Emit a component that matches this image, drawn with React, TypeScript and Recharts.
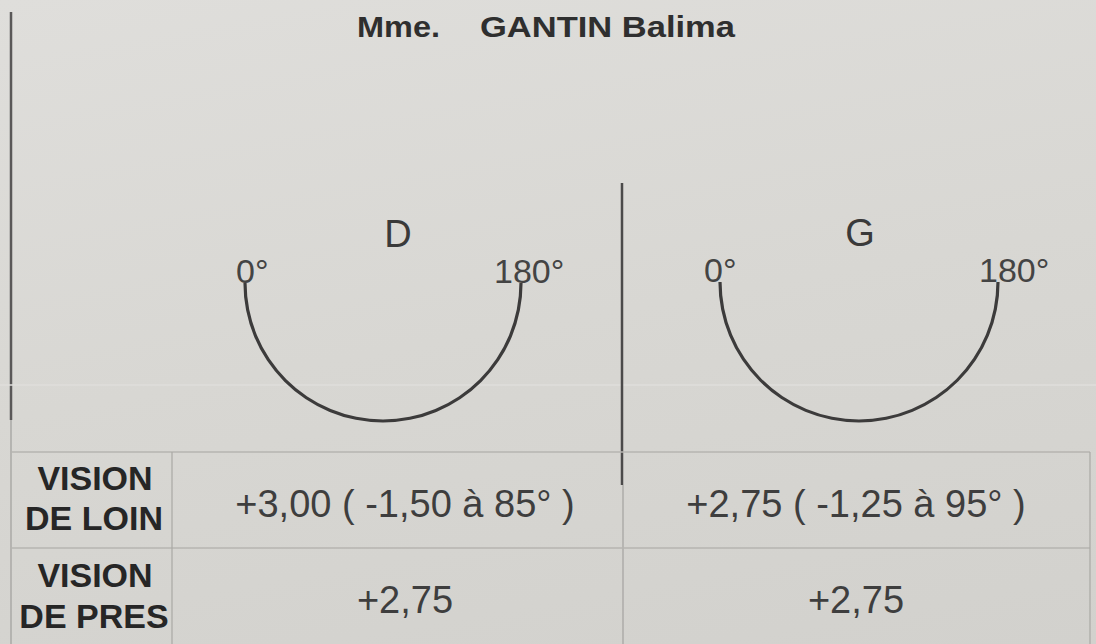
import React from 'react';
import { PieChart, Pie, Cell, Customized } from 'recharts';

// ---- data ----
const patientTitle = 'Mme.';
const patientName = 'GANTIN Balima';
const eyes = ['D', 'G'];
const axisEnds = ['0°', '180°'];
const axisSpan = [{ name: 'axe', value: 180 }];
const rowLabels = [
  ['VISION', 'DE LOIN'],
  ['VISION', 'DE PRES'],
];
const farVision = ['+3,00 ( -1,50 à 85° )', '+2,75 ( -1,25 à 95° )'];
const nearVision = ['+2,75', '+2,75'];

// ---- layout (not data) ----
const W = 1096;
const H = 644;
const arcGeom = [
  { cx: 383, cy: 283, r: 138 },
  { cx: 859, cy: 282, r: 139 },
];
const eyeLabelPos = [
  { x: 398, y: 247 },
  { x: 860, y: 246 },
];
const endLabelPos = [
  [{ x: 236, y: 283 }, { x: 494, y: 283 }],
  [{ x: 704, y: 282 }, { x: 979, y: 282 }],
];
const colCenters = [405, 856];
const FONT = '"Liberation Sans", Arial, Helvetica, sans-serif';

const Overlay = () => (
  <g>
    {/* left border */}
    <line x1={11} y1={12} x2={11} y2={420} stroke="#5a5858" strokeWidth={2.5} />
    <line x1={11} y1={420} x2={11} y2={644} stroke="#a3a29f" strokeWidth={1.3} />
    {/* faint printed guide line */}
    <line x1={0} y1={385} x2={W} y2={385} stroke="#dfdedb" strokeWidth={1.5} />
    {/* central divider */}
    <line x1={622} y1={183} x2={622} y2={485} stroke="#4b4a4a" strokeWidth={2.5} />
    <line x1={623} y1={485} x2={623} y2={644} stroke="#a3a29f" strokeWidth={1.2} />
    {/* table grid */}
    <line x1={10} y1={452} x2={1090} y2={452} stroke="#b6b5b1" strokeWidth={1.5} />
    <line x1={10} y1={548} x2={1090} y2={548} stroke="#b6b5b1" strokeWidth={1.5} />
    <line x1={172} y1={452} x2={172} y2={644} stroke="#a9a8a4" strokeWidth={1.2} />
    <line x1={1090} y1={452} x2={1090} y2={644} stroke="#a9a8a4" strokeWidth={1.2} />

    {/* title */}
    <text x={357} y={37} fontFamily={FONT} fontWeight="bold" fontSize={29} fill="#2f2f2f"
      textLength={83} lengthAdjust="spacingAndGlyphs">{patientTitle}</text>
    <text x={480} y={37} fontFamily={FONT} fontWeight="bold" fontSize={29} fill="#2f2f2f"
      textLength={255} lengthAdjust="spacingAndGlyphs">{patientName}</text>

    {/* eye labels */}
    {eyes.map((e, i) => (
      <text key={e} x={eyeLabelPos[i].x} y={eyeLabelPos[i].y} textAnchor="middle"
        fontFamily={FONT} fontSize={38} fill="#3a3a3a">{e}</text>
    ))}
    {endLabelPos.map((pair, i) =>
      pair.map((p, j) => (
        <text key={`${i}-${j}`} x={p.x} y={p.y} fontFamily={FONT} fontSize={34} fill="#444444">
          {axisEnds[j]}
        </text>
      ))
    )}

    {/* row labels */}
    {rowLabels.map((lines, i) => (
      <g key={i}>
        <text x={95} y={490 + i * 97} textAnchor="middle" fontFamily={FONT} fontWeight="bold"
          fontSize={34} fill="#262626">{lines[0]}</text>
        <text x={94} y={530 + i * 98} textAnchor="middle" fontFamily={FONT} fontWeight="bold"
          fontSize={34} fill="#262626">{lines[1]}</text>
      </g>
    ))}

    {/* values */}
    {farVision.map((v, i) => (
      <text key={`f${i}`} x={colCenters[i]} y={517} textAnchor="middle" fontFamily={FONT}
        fontSize={38} fill="#3e3e3e">{v}</text>
    ))}
    {nearVision.map((v, i) => (
      <text key={`n${i}`} x={colCenters[i]} y={613} textAnchor="middle" fontFamily={FONT}
        fontSize={38} fill="#3e3e3e">{v}</text>
    ))}
  </g>
);

export default function App() {
  return (
    <div
      style={{
        position: 'absolute',
        left: 0,
        top: 0,
        width: W,
        height: H,
        background: 'linear-gradient(170deg, #dfdedb 0%, #d8d7d3 50%, #d2d1cd 100%)',
        overflow: 'hidden',
      }}
    >
      <PieChart width={W} height={H} margin={{ top: 0, right: 0, bottom: 0, left: 0 }}>
        {arcGeom.map((g, i) => (
          <Pie
            key={eyes[i]}
            data={axisSpan}
            dataKey="value"
            cx={g.cx}
            cy={g.cy}
            innerRadius={g.r - 1.6}
            outerRadius={g.r + 1.6}
            startAngle={180}
            endAngle={360}
            stroke="none"
            isAnimationActive={false}
          >
            {axisSpan.map((d) => (
              <Cell key={d.name} fill="#3c3b3b" />
            ))}
          </Pie>
        ))}
        <Customized component={Overlay} />
      </PieChart>
    </div>
  );
}
